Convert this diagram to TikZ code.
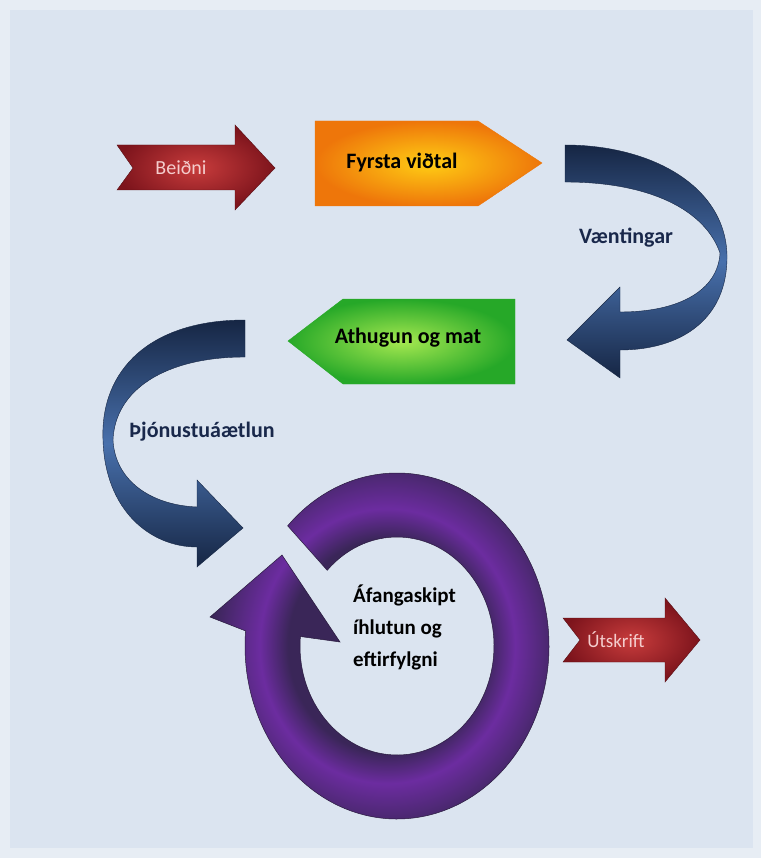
\documentclass[tikz,border=0pt]{standalone}
\usepackage{fontspec}
\setmainfont{Carlito}
\definecolor{bgblue}{RGB}{219,228,240}
\definecolor{bgedge}{RGB}{231,237,244}
\definecolor{redlight}{RGB}{200,60,60}
\definecolor{reddark}{RGB}{125,20,28}
\definecolor{redtext}{RGB}{244,205,205}
\definecolor{orangeout}{RGB}{238,118,10}
\definecolor{orangein}{RGB}{255,205,20}
\definecolor{greenout}{RGB}{38,168,40}
\definecolor{greenin}{RGB}{165,232,80}
\definecolor{navydark}{RGB}{22,38,68}
\definecolor{navylight}{RGB}{72,112,172}
\definecolor{navytext}{RGB}{25,40,75}
\definecolor{purpledark}{RGB}{58,38,88}
\definecolor{purplelight}{RGB}{108,44,160}
\pgfdeclareradialshading{ringshade}{\pgfpointorigin}{color(0bp)=(purpledark); color(14bp)=(purpledark); color(18bp)=(purplelight); color(25bp)=(purpledark); color(50bp)=(purpledark)}

\begin{document}
\begin{tikzpicture}[x=1pt,y=-1pt,
	redarrow/.style={inner color=redlight,outer color=reddark,draw=reddark!70!black,line width=.4pt},
	ribbon/.style={top color=navydark,bottom color=navydark,middle color=navylight,draw=navydark,line width=.4pt},
	ringarrow/.style={shade,shading=ringshade,draw=purpledark!70!black,line width=.5pt},
	redlabel/.style={text=redtext,font=\fontsize{20}{24}\selectfont},
	navylabel/.style={text=navytext,font=\fontsize{22}{26}\selectfont\bfseries},
	blacklabel/.style={text=black,font=\fontsize{22}{26}\selectfont\bfseries}]
	\fill[bgedge] (0,0) rectangle (761,858);
	\fill[bgblue] (10,10) rectangle (753,848);
	
	\path[redarrow] (117,145) -- (235,145) -- (235,125) -- (275,168) -- (235,210) -- (235,190) -- (117,190) -- (133,168) -- cycle;
	\node[redlabel] (beidni) at (181,168) {Beiðni};
	
	\path[inner color=orangein,outer color=orangeout,draw=orangeout] (315,121) -- (478,121) -- (542,163) -- (478,206) -- (315,206) -- cycle;
	\node[blacklabel] (fyrsta) at (402,163) {Fyrsta viðtal};
	
	\path[ribbon] (565,145) .. controls (650,145) and (725,185) .. (727,255) .. controls (728,320) and (680,350) .. (620,350) -- (620,378) -- (567,340) -- (620,287) -- (620,312) .. controls (680,312) and (718,290) .. (720,253) .. controls (705,210) and (650,182) .. (565,182) -- cycle;
	\node[navylabel] (vaentingar) at (626,238) {Væntingar};
	
	\path[inner color=greenin,outer color=greenout,draw=greenout] (515,299) -- (343,299) -- (288,341) -- (343,384) -- (515,384) -- cycle;
	\node[blacklabel] (athugun) at (408,338) {Athugun og mat};
	
	\path[ribbon] (245,320) .. controls (150,320) and (100,370) .. (103,440) .. controls (105,510) and (150,547) .. (197,547) -- (197,567) -- (243,528) -- (197,480) -- (197,507) .. controls (150,505) and (115,480) .. (113,440) .. controls (115,390) and (165,357) .. (245,357) -- cycle;
	\node[navylabel] (thjonusta) at (202,432) {Þjónustuáætlun};
	
	\coordinate (ringc) at (397,646);
	\path[ringarrow] ([shift={(224:152 and 173)}]ringc) arc[start angle=224,end angle=545,x radius=152,y radius=173] -- (210,617) -- (282,555) -- (340,642) -- ([shift={(545:97 and 109)}]ringc) arc[start angle=545,end angle=224,x radius=97,y radius=109] -- cycle;
	\node[blacklabel,font=\fontsize{21}{32}\selectfont\bfseries,align=left,anchor=west,inner sep=0pt] (afangi) at (353,627) {Áfangaskipt\\íhlutun og\\eftirfylgni};
	
	\path[redarrow] (563,618) -- (665,618) -- (665,598) -- (700,640) -- (665,682) -- (665,662) -- (563,662) -- (580,640) -- cycle;
	\node[redlabel,font=\fontsize{19}{23}\selectfont] (utskrift) at (616,640) {Útskrift};
\end{tikzpicture}
\end{document}
